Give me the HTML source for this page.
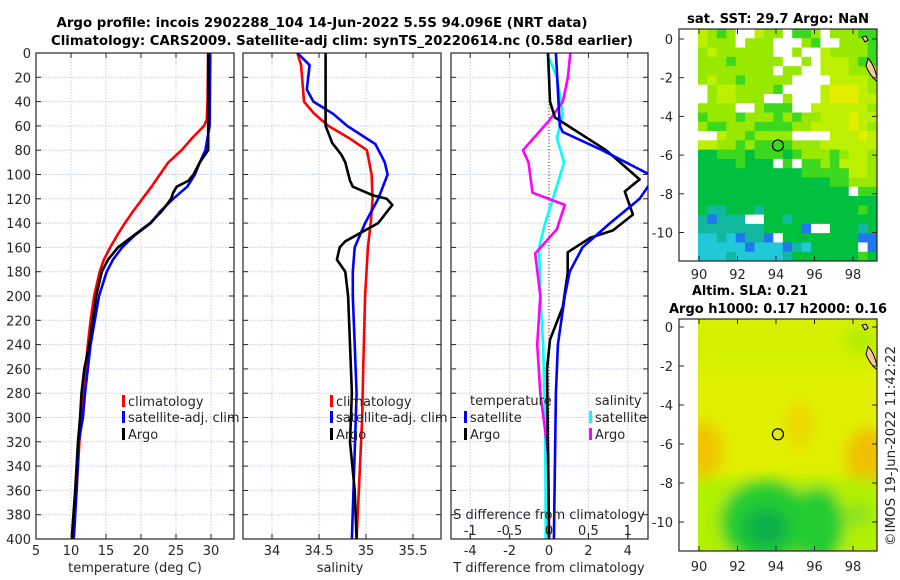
<!DOCTYPE html>
<html><head><meta charset="utf-8"><title>Argo profile</title>
<style>
html,body{margin:0;padding:0;background:#fff;}
svg{display:block;font-family:"DejaVu Sans","Liberation Sans",sans-serif;}
.tk{font-size:13px;fill:#262626;}
.tt{font-size:13px;font-weight:bold;fill:#000;}
</style></head>
<body>
<svg id="fig" width="900" height="580" viewBox="0 0 900 580" xmlns="http://www.w3.org/2000/svg">
<defs>
<clipPath id="c1"><rect x="36" y="53" width="198" height="486"/></clipPath>
<clipPath id="c2"><rect x="243" y="53" width="198" height="486"/></clipPath>
<clipPath id="c3"><rect x="451" y="53" width="197" height="486"/></clipPath>
<clipPath id="cm2"><rect x="698" y="319" width="179" height="232"/></clipPath>
<filter id="blur" x="-20%" y="-20%" width="140%" height="140%"><feGaussianBlur stdDeviation="7"/></filter>
</defs>
<text class="tt" x="322" y="27" text-anchor="middle" textLength="531" lengthAdjust="spacingAndGlyphs">Argo profile: incois 2902288_104 14-Jun-2022 5.5S 94.096E (NRT data)</text>
<text class="tt" x="342" y="45" text-anchor="middle" textLength="582" lengthAdjust="spacingAndGlyphs">Climatology: CARS2009. Satellite-adj clim: synTS_20220614.nc (0.58d earlier)</text>
<g id="grids"></g>
<g id="series"></g>
<g id="frames"></g>
<g id="maps"></g>
<text class="tk" x="135" y="572" text-anchor="middle">temperature (deg C)</text>
<text class="tk" x="340" y="572" text-anchor="middle">salinity</text>
<text class="tk" x="549" y="572" text-anchor="middle">T difference from climatology</text>
<text class="tk" x="549" y="519" text-anchor="middle">S difference from climatology</text>
<text class="tt" x="778" y="23" text-anchor="middle" textLength="182" lengthAdjust="spacingAndGlyphs">sat. SST: 29.7 Argo: NaN</text>
<text class="tt" x="750" y="295" text-anchor="middle" textLength="116" lengthAdjust="spacingAndGlyphs">Altim. SLA: 0.21</text>
<text class="tt" x="778" y="313" text-anchor="middle" textLength="218" lengthAdjust="spacingAndGlyphs">Argo h1000: 0.17 h2000: 0.16</text>
<text class="tk" transform="translate(895,446) rotate(-90)" text-anchor="middle" textLength="200" lengthAdjust="spacingAndGlyphs">©IMOS 19-Jun-2022 11:42:22</text>
</svg>
<script>
// ---- data arrays ----
const tClimDepth=[0,40,55,60,70,80,90,100,110,120,130,140,150,160,170,180,200,220,240,260,280,300,320,340,360,380,400];
const tClimVal=[29.6,29.5,29.4,29.0,27.3,25.8,23.9,22.7,21.5,20.2,18.9,17.7,16.6,15.6,14.7,14.1,13.3,12.8,12.4,12.1,11.8,11.5,11.2,11.0,10.8,10.5,10.3];
const tSatDepth=[0,60,80,90,100,110,120,130,140,150,160,170,180,200,240,280,300,320,360,400];
const tSatVal=[29.9,29.8,29.2,28.4,27.7,26.6,24.6,22.8,21.4,19.1,17.3,16.0,15.1,14.0,12.8,12.0,11.7,11.1,10.8,10.4];
const tArgoDepth=[0,80,90,100,105,110,115,120,130,140,150,160,170,180,200,240,260,280,300,320,360,400];
const tArgoVal=[29.6,29.6,28.4,27.5,26.8,25.1,24.6,24.3,23.0,21.3,19.0,16.7,15.3,14.4,13.6,12.6,11.9,11.5,11.3,11.0,10.6,10.1];
const sClimDepth=[0,10,40,50,60,70,80,100,120,140,160,200,260,300,400];
const sClimVal=[34.27,34.31,34.34,34.45,34.6,34.82,35.01,35.06,35.07,35.05,35.02,34.99,34.97,34.96,34.9];
const sSatDepth=[0,10,30,40,50,60,75,90,100,120,140,160,180,200,280,400];
const sSatVal=[34.27,34.4,34.37,34.44,34.65,34.8,35.1,35.2,35.23,35.13,34.99,34.88,34.86,34.86,34.9,34.85];
const sArgoDepth=[0,60,74,84,90,105,110,117,120,125,140,155,160,170,180,200,240,280,320,360,400];
const sArgoVal=[34.57,34.57,34.64,34.74,34.78,34.83,34.86,35.07,35.22,35.28,35.13,34.78,34.72,34.69,34.78,34.81,34.83,34.85,34.83,34.88,34.9];
const dTSatDepth=[0,60,65,80,100,108,120,140,160,180,200,240,280,400];
const dTSatVal=[0.35,0.55,0.7,2.7,5.1,5.1,4.6,3.1,1.7,1.05,0.8,0.45,0.35,0.25];
const dTArgoDepth=[0,40,53,80,104,114,133,146,152,164,181,209,236,260,400];
const dTArgoVal=[-0.05,0.05,0.3,2.9,4.6,3.85,4.26,3.25,2.1,0.95,0.95,0.7,0.05,-0.1,0];
const dSSatDepth=[0,20,50,60,70,90,120,140,160,200,240,300,400];
const dSSatVal=[-0.025,0.1,0.175,0.14,0.1,0.19,0.05,-0.05,-0.125,-0.11,-0.075,-0.05,-0.04];
const dSArgoDepth=[0,20,40,55,80,90,115,125,145,165,200,240,280,330,400];
const dSArgoVal=[0.27,0.24,0.175,0.01,-0.33,-0.26,-0.21,0.2,0.1,-0.175,-0.11,-0.15,-0.11,-0.01,0];
const depthTicks=[0,20,40,60,80,100,120,140,160,180,200,220,240,260,280,300,320,340,360,380,400];
const tTicks=[5,10,15,20,25,30];
const sTicks=[34,34.5,35,35.5];
const dTTicks=[-4,-2,0,2,4];
const dSTicks=[-1,-0.5,0,0.5,1];
const lonTicks=[90,92,94,96,98];
const latTicks=[0,-2,-4,-6,-8,-10];
const sstRows=[
"ylglwwyllwgglwlllgg","ylllwlllwwwlgwwlllg","lyllllllwwlwwyllllg","lllglllllwwlwyyylgg",
"llllllllwllwwyyylll","lyllglllllwwwwyyyyl","wlyyllllgwwwwyYYYyl","wlyylllwwlwwwyYYYyy",
"llllwwlgggwwyyyyyyl","glllglllglgllyyyYyy","lgglllggggllyyyyYyl","wwyllgllllwwwwyyyYy",
"yyllglgggglllyyyyyy","GGgggGgggGglllglyyl","GGGGgGGGwgwgglgyyyl","GGGGGGGGGGGgggggyyl",
"GGGGGGGGGGGGGGgglll","GGGGGGGGGGGGGGGGwgg","GGGGGGGGGGGGGGGGGGG","GccGGGcGGGGGGGGGGgG",
"cbcccwwGGcGGGGGGGGG","cccccccGGGGbwwGGGcG","CCcCbccbwGGGGGGGGbb","CCCCCbCCCbcCGGGGGwb","CCCcCCCCCcGGGGGGGgG"];

// ---- scales ----
const NS='http://www.w3.org/2000/svg';
const yD=d=>53+d*1.215;
const xT=v=>36+(v-5)*7;
const xS=v=>272+(v-34)*94;
const xdT=v=>549+v*19.7;
const xdS=v=>549+v*4*19.7;
const lonX=l=>699+(l-90)*19.25;
const latY1=l=>39-l*19.35;
const latY2=l=>327-l*19.5;
const panels=[{x0:36,x1:234},{x0:243,x1:441},{x0:451,x1:648}];

function mk(tag,attrs,parent,name){
  const el=document.createElementNS(NS,tag);
  for(const k in attrs) el.setAttribute(k,attrs[k]);
  
  
  parent.appendChild(el);
  return el;
}
function txt(s,x,y,anchor,parent,name,cls){
  const t=mk('text',{x:x,y:y,'text-anchor':anchor,class:cls||'tk'},parent,name);
  t.textContent=s;return t;
}
const G=document.getElementById('grids'),S=document.getElementById('series'),F=document.getElementById('frames'),M=document.getElementById('maps');

// grids
panels.forEach((p,i)=>{
  depthTicks.forEach(d=>{
    if(d>0&&d<400) mk('line',{x1:p.x0,x2:p.x1,y1:yD(d),y2:yD(d),stroke:'#c5cbe6','stroke-width':1,'stroke-dasharray':'1.5,1.5'},G,'grid-line-h');
  });
});
tTicks.forEach(v=>mk('line',{x1:xT(v),x2:xT(v),y1:53,y2:539,stroke:'#c5cbe6','stroke-dasharray':'1.5,1.5'},G,'grid-line-v'));
sTicks.forEach(v=>mk('line',{x1:xS(v),x2:xS(v),y1:53,y2:539,stroke:'#c5cbe6','stroke-dasharray':'1.5,1.5'},G,'grid-line-v'));
dTTicks.forEach(v=>{ if(v!==0) mk('line',{x1:xdT(v),x2:xdT(v),y1:53,y2:539,stroke:'#c5cbe6','stroke-dasharray':'1.5,1.5'},G,'grid-line-v');});
mk('line',{x1:549,x2:549,y1:53,y2:539,stroke:'#554','stroke-width':1.2,'stroke-dasharray':'1.2,2'},G,'zero-reference-line');

// series
function series(ds,vs,sx,color,clip,name){
  const pts=ds.map((d,i)=>sx(vs[i]).toFixed(1)+','+yD(d).toFixed(1)).join(' ');
  mk('polyline',{points:pts,fill:'none',stroke:color,'stroke-width':2.6,'stroke-linejoin':'round','clip-path':'url(#'+clip+')'},S,name);
}
series(tClimDepth,tClimVal,xT,'#ff0000','c1','temperature-climatology-line');
series(tSatDepth,tSatVal,xT,'#0000ff','c1','temperature-satellite-line');
series(tArgoDepth,tArgoVal,xT,'#000000','c1','temperature-argo-line');
series(sClimDepth,sClimVal,xS,'#ff0000','c2','salinity-climatology-line');
series(sSatDepth,sSatVal,xS,'#0000ff','c2','salinity-satellite-line');
series(sArgoDepth,sArgoVal,xS,'#000000','c2','salinity-argo-line');
series(dSSatDepth,dSSatVal,xdS,'#00ffff','c3','s-diff-satellite-line');
series(dSArgoDepth,dSArgoVal,xdS,'#ff00ff','c3','s-diff-argo-line');
series(dTArgoDepth,dTArgoVal,xdT,'#000000','c3','t-diff-argo-line');
series(dTSatDepth,dTSatVal,xdT,'#0000ff','c3','t-diff-satellite-line');

// frames and ticks
panels.forEach((p,i)=>{
  mk('rect',{x:p.x0,y:53,width:p.x1-p.x0,height:486,fill:'none',stroke:'#262626','stroke-width':1.2},F,'panel-frame');
  depthTicks.forEach(d=>{
    mk('line',{x1:p.x0,x2:p.x0+5,y1:yD(d),y2:yD(d),stroke:'#262626'},F,'y-tick');
    mk('line',{x1:p.x1,x2:p.x1-5,y1:yD(d),y2:yD(d),stroke:'#262626'},F,'y-tick');
  });
});
depthTicks.forEach(d=>txt(String(d),31,yD(d)+5,'end',F,'depth-tick-label'));
function xticks(vals,sx,fmt,nm){
  vals.forEach(v=>{
    mk('line',{x1:sx(v),x2:sx(v),y1:539,y2:534,stroke:'#262626'},F,'x-tick');
    mk('line',{x1:sx(v),x2:sx(v),y1:53,y2:58,stroke:'#262626'},F,'x-tick');
    txt(fmt(v),sx(v),555,'middle',F,nm);
  });
}
xticks(tTicks,xT,v=>String(v),'temperature-tick-label');
xticks(sTicks,xS,v=>String(v),'salinity-tick-label');
xticks(dTTicks,xdT,v=>String(v),'t-diff-tick-label');
dSTicks.forEach(v=>{
  mk('line',{x1:xdS(v),x2:xdS(v),y1:539,y2:533,stroke:'#262626'},F,'s-diff-tick');
  txt(String(v),xdS(v),535,'middle',F,'s-diff-tick-label');
});

// legends
function leg(x,y,color,label,nm){
  mk('rect',{x:x,y:y-6,width:3,height:12,fill:color},F,nm+'-swatch');
  txt(label,x+6,y+5,'start',F,nm+'-label');
}
leg(122,401,'#ff0000','climatology','legend-temp-climatology');
leg(122,417,'#0000ff','satellite-adj. clim','legend-temp-satellite');
leg(122,434,'#000000','Argo','legend-temp-argo');
leg(330,401,'#ff0000','climatology','legend-sal-climatology');
leg(330,417,'#0000ff','satellite-adj. clim','legend-sal-satellite');
leg(330,434,'#000000','Argo','legend-sal-argo');
txt('temperature',470,405,'start',F,'legend-diff-temperature-heading');
leg(464,417,'#0000ff','satellite','legend-diff-t-satellite');
leg(464,434,'#000000','Argo','legend-diff-t-argo');
txt('salinity',595,405,'start',F,'legend-diff-salinity-heading');
leg(589,417,'#00ffff','satellite','legend-diff-s-satellite');
leg(589,434,'#ff00ff','Argo','legend-diff-s-argo');

// ---- maps ----
const pal={w:'#ffffff',y:'#bdf000',l:'#98e800',g:'#3cd820',G:'#00c040',c:'#10b8a0',C:'#20c8d8',b:'#2078f0',Y:'#e4ec00'};
const cw=179/19,ch=232/25;
sstRows.forEach((row,r)=>{
  for(let c=0;c<row.length;c++){
    mk('rect',{x:(698+c*cw).toFixed(2),y:(29+r*ch).toFixed(2),width:(cw+0.4).toFixed(2),height:(ch+0.4).toFixed(2),fill:pal[row[c]]},M,'sst-cell');
  }
});
// SLA map (smooth field)
const sla=mk('g',{'clip-path':'url(#cm2)'},M,'sla-field');
mk('rect',{x:698,y:319,width:179,height:232,fill:'#e0f000'},sla,'sla-background');
const bl=mk('g',{filter:'url(#blur)'},sla,'sla-blobs');
mk('rect',{x:690,y:310,width:200,height:60,fill:'#d4f000'},bl,'sla-blob');
mk('ellipse',{cx:703,cy:450,rx:20,ry:28,fill:'#f0c400'},bl,'sla-blob');
mk('ellipse',{cx:868,cy:458,rx:22,ry:30,fill:'#f0c000'},bl,'sla-blob');
mk('ellipse',{cx:800,cy:425,rx:14,ry:24,fill:'#ecd800'},bl,'sla-blob');
mk('rect',{x:690,y:478,width:200,height:80,fill:'#b0f000'},bl,'sla-blob');
mk('ellipse',{cx:766,cy:522,rx:46,ry:42,fill:'#20cc30'},bl,'sla-blob');
mk('ellipse',{cx:818,cy:525,rx:26,ry:38,fill:'#20cc30'},bl,'sla-blob');
mk('ellipse',{cx:766,cy:528,rx:22,ry:20,fill:'#08b048'},bl,'sla-blob');
mk('ellipse',{cx:858,cy:515,rx:12,ry:10,fill:'#80e020'},bl,'sla-blob');
mk('ellipse',{cx:860,cy:340,rx:16,ry:12,fill:'#b0ec00'},bl,'sla-blob');
// land patches
[latY1,latY2].forEach(ly=>{
  mk('path',{d:`M868,${ly(-1.0)} Q874,${ly(-1.3)} 877,${ly(-2.0)} L877,${ly(-2.2)} Q870,${ly(-1.9)} 866,${ly(-1.4)} Z`,fill:'#f5c8a0',stroke:'#000','stroke-width':1},M,'land-patch');
  mk('path',{d:`M862,${ly(0.1)} l4,-1 l2,4 l-3,2 Z`,fill:'#f5c8a0',stroke:'#000','stroke-width':1},M,'island');
});
// circles
mk('circle',{cx:lonX(94.1),cy:latY1(-5.5),r:5.5,fill:'none',stroke:'#000','stroke-width':1.2},M,'argo-location-marker-sst');
mk('circle',{cx:lonX(94.1),cy:latY2(-5.5),r:5.5,fill:'none',stroke:'#000','stroke-width':1.2},M,'argo-location-marker-sla');
// map frames & ticks
[[29,261,latY1,275,'sst'],[319,551,latY2,567,'sla']].forEach(([top,bot,ly,lblY,nm])=>{
  mk('rect',{x:679,y:top,width:198,height:bot-top,fill:'none',stroke:'#262626','stroke-width':1.2},M,nm+'-map-frame');
  lonTicks.forEach(l=>{
    mk('line',{x1:lonX(l),x2:lonX(l),y1:bot,y2:bot-5,stroke:'#262626'},M,'lon-tick');
    mk('line',{x1:lonX(l),x2:lonX(l),y1:top,y2:top+5,stroke:'#262626'},M,'lon-tick');
    txt(String(l),lonX(l),lblY+4,'middle',M,nm+'-lon-tick-label');
  });
  latTicks.forEach(l=>{
    mk('line',{x1:679,x2:684,y1:ly(l),y2:ly(l),stroke:'#262626'},M,'lat-tick');
    mk('line',{x1:877,x2:872,y1:ly(l),y2:ly(l),stroke:'#262626'},M,'lat-tick');
    txt(String(l),673,ly(l)+5,'end',M,nm+'-lat-tick-label');
  });
});
</script>
</body></html>
